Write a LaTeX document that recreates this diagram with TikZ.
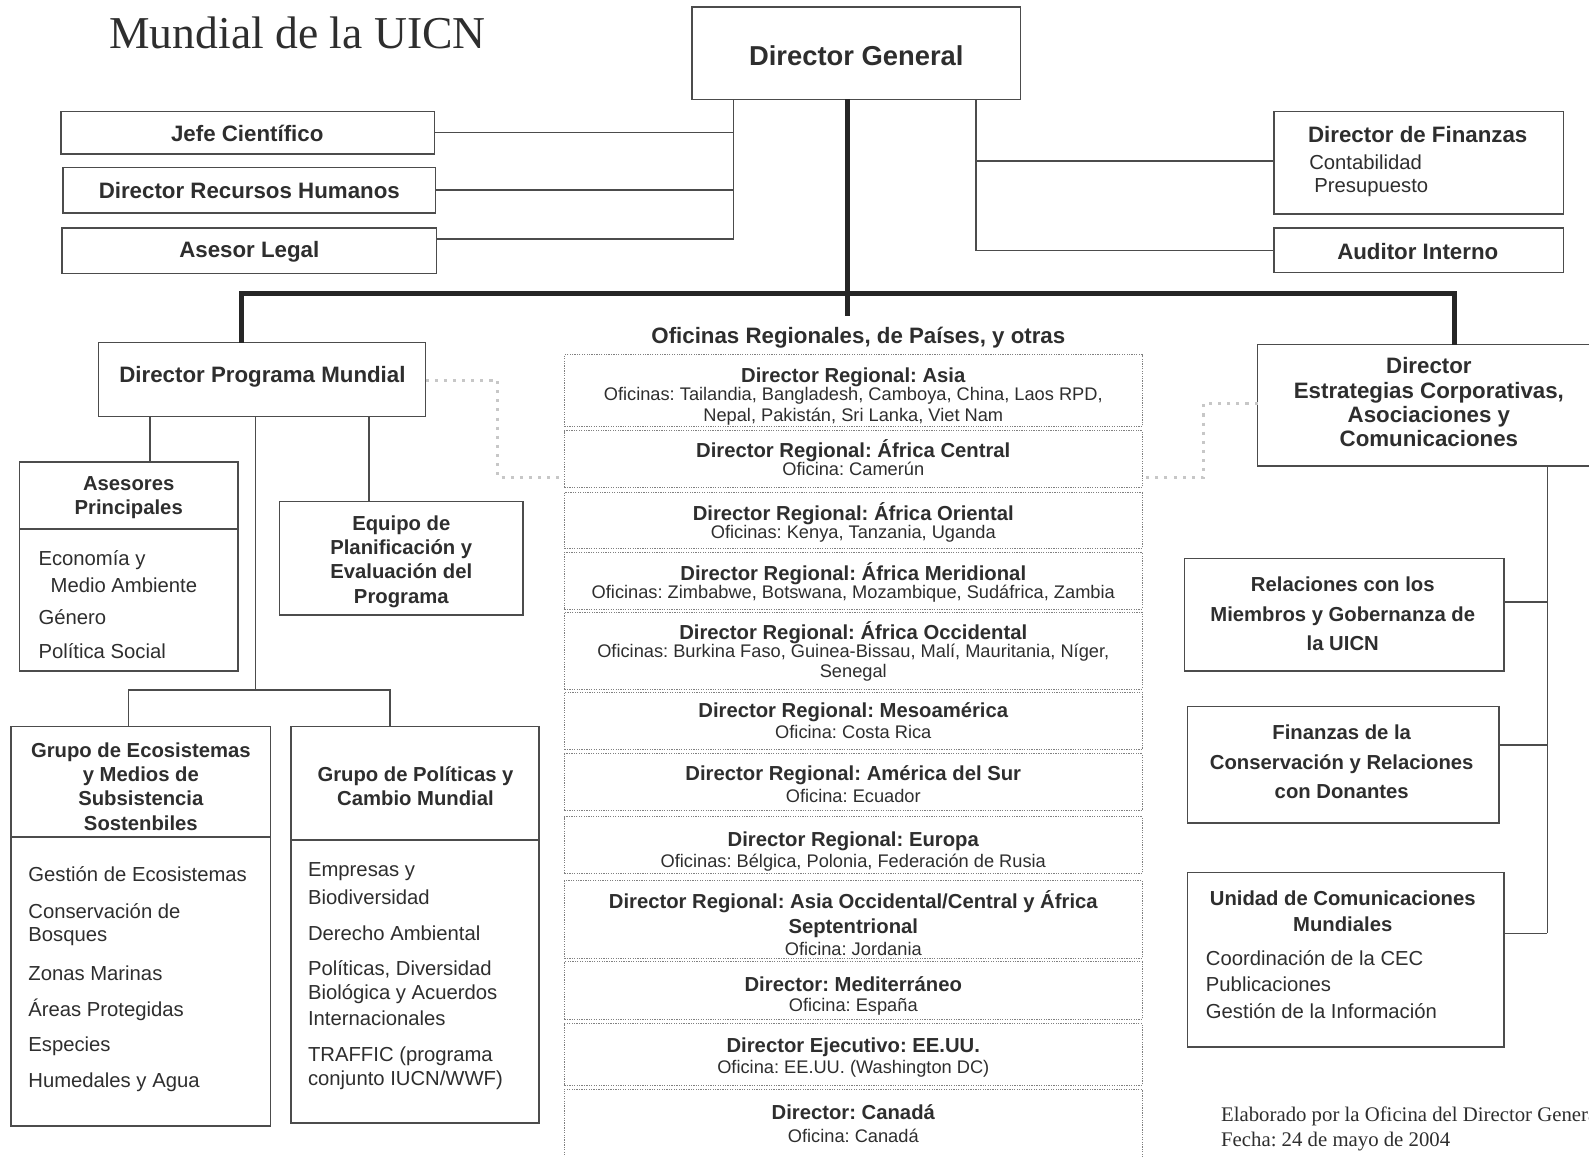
\documentclass[tikz,border=0pt]{standalone}
\usepackage{fontspec}
\setmainfont{Liberation Sans}
\newfontfamily\seriff{Liberation Serif}
\frenchspacing
\newcommand\fsz[2]{\fontsize{#1}{#2}\selectfont}
\newcommand\mybox[6][]{\node[box,#1,minimum width={#5pt-#3pt},minimum height={#6pt-#4pt}] (#2) at ({(#3+#5)/2},{(#4+#6)/2}) {};}
\tikzset{
  box/.style={draw=black!70, line width=1.4pt, inner sep=0pt, outer sep=0pt},
  dbox/.style={draw=black!50, line width=1pt, dash pattern=on 1.2pt off 1.2pt, inner sep=0pt, outer sep=0pt},
  conn/.style={draw=black!70, line width=1.4pt},
  thk/.style={draw=black!85, line width=5pt, line join=miter},
  dotconn/.style={draw=black!22, line width=3pt, dash pattern=on 3pt off 6pt},
  tx/.style={text=black!82, inner sep=0pt, outer sep=0pt, align=center},
  hb/.style={tx, font=\bfseries\fsz{22}{24}},
  hc/.style={tx, font=\bfseries\fsz{20}{24}},
  rb/.style={tx, font=\fsz{18}{20}},
  it/.style={tx, anchor=west, align=left, font=\fsz{20}{24}},
}
\begin{document}
\begin{tikzpicture}[x=1pt,y=-1pt]
\useasboundingbox (0,0) rectangle (1568,1141);
\clip (0,0) rectangle (1568,1141);
\fill[white] (0,0) rectangle (1568,1141);

% title
\node[tx, anchor=base west, font=\seriff\fsz{45}{50}] (title) at (108,48) {Mundial de la UICN};

% top boxes
\mybox{dg}{683}{7}{1007}{98}
\node[tx, font=\bfseries\fsz{27}{30}] (dgT) at (845,55) {Director General};
\mybox{jefe}{60}{110}{429}{152}
\node[hb] (jefeT) at (244,132) {Jefe Científico};
\mybox{rh}{62}{165}{430}{210}
\node[hb] (rhT) at (246,188) {Director Recursos Humanos};
\mybox{legal}{61}{225}{431}{270}
\node[hb] (legalT) at (246,248) {Asesor Legal};
\mybox{fin}{1257}{110}{1543}{211}
\node[hb] (finT) at (1399,133) {Director de Finanzas};
\node[it] (finA) at (1292,160) {Contabilidad};
\node[it] (finB) at (1297,185) {Presupuesto};
\mybox{aud}{1257}{225}{1543}{269}
\node[hb] (audT) at (1399,248) {Auditor Interno};

% connectors top
\draw[conn] (dg.south -| 724,0) |- (jefe.east);
\draw[conn] (dg.south -| 724,0) |- (rh.east);
\draw[conn] (dg.south -| 724,0) |- (legal.east |- 0,236);
\draw[conn] (dg.south -| 963,0) |- (fin.west |- 0,159);
\draw[conn] (dg.south -| 963,0) |- (aud.west);

% second level
\mybox{dpm}{97}{338}{420}{411}
\node[hb] (dpmT) at (259,372) {Director Programa Mundial};
\mybox{est}{1241}{340}{1590}{460}
\node[hb] (estT) at (1410,397) {Director\\Estrategias Corporativas,\\Asociaciones y\\Comunicaciones};
\node[hb] (ofT) at (847,333) {Oficinas Regionales, de Países, y otras};

\coordinate (bar) at (836,290);
\draw[thk] (dg.south -| bar) -- (836,312);
\draw[thk] (dpm.north -| 238,0) -- (238,290) -- (1435,290) -- (est.north -| 1435,0);

% regional boxes
\newcommand\rbox[7]{%
  \node[dbox, minimum width=570pt, minimum height={#3pt-#2pt}] (#1) at (842,{(#2+#3)/2}) {};
  \node[hc] (#1T) at (842,#5) {#4};
  \node[rb] (#1S) at (842,#7) {#6};}
\rbox{asia}{350}{421}{Director Regional: Asia}{372}{Oficinas: Tailandia, Bangladesh, Camboya, China, Laos RPD,\\Nepal, Pakistán, Sri Lanka, Viet Nam}{401}
\rbox{afc}{425}{481}{Director Regional: África Central}{445}{Oficina: Camerún}{463}
\rbox{afo}{486}{541}{Director Regional: África Oriental}{507}{Oficinas: Kenya, Tanzania, Uganda}{527}
\rbox{afm}{545}{601}{Director Regional: África Meridional}{566}{Oficinas: Zimbabwe, Botswana, Mozambique, Sudáfrica, Zambia}{586}
\rbox{afoc}{604}{680}{Director Regional: África Occidental}{624}{Oficinas: Burkina Faso, Guinea-Bissau, Malí, Mauritania, Níger,\\Senegal}{654}
\rbox{meso}{683}{740}{Director Regional: Mesoamérica}{703}{Oficina: Costa Rica}{722}
\rbox{amsur}{744}{800}{Director Regional: América del Sur}{765}{Oficina: Ecuador}{785}
\rbox{eur}{806}{862}{Director Regional: Europa}{830}{Oficinas: Bélgica, Polonia, Federación de Rusia}{851}
\rbox{aoc}{869}{946}{Director Regional: Asia Occidental/Central y África\\Septentrional}{902}{Oficina: Jordania}{936}
\rbox{med}{949}{1006}{Director: Mediterráneo}{971}{Oficina: España}{993}
\rbox{usa}{1010}{1071}{Director Ejecutivo: EE.UU.}{1033}{Oficina: EE.UU. (Washington DC)}{1055}
\rbox{can}{1075}{1160}{Director: Canadá}{1097}{Oficina: Canadá}{1121}

% dotted links
\draw[dotconn] (dpm.east |- 0,375) -- (491,375) -- (491,471) -- (afc.west |- 0,471);
\draw[dotconn] (est.west |- 0,398) -- (1188,398) -- (1188,471) -- (afc.east |- 0,471);

% left branch
\mybox{ases}{19}{456}{235}{662}
\draw[box] (ases.west |- 0,522) -- (ases.east |- 0,522);
\node[hc] (asesT) at (127,491) {Asesores\\Principales};
\node[it] (as1) at (38,553) {Economía y};
\node[it] (as2) at (50,578) {Medio Ambiente};
\node[it] (as3) at (38,609) {Género};
\node[it] (as4) at (38,643) {Política Social};

\mybox{equipo}{276}{495}{516}{607}
\node[hc] (equipoT) at (396,554) {Equipo de\\Planificación y\\Evaluación del\\Programa};

\mybox{ecos}{11}{717}{267}{1111}
\draw[box] (ecos.west |- 0,826) -- (ecos.east |- 0,826);
\node[hc] (ecosT) at (139,776) {Grupo de Ecosistemas\\y Medios de\\Subsistencia\\Sostenbiles};
\node[it] (ec1) at (28,863) {Gestión de Ecosistemas};
\node[it] (ec2) at (28,899) {Conservación de};
\node[it] (ec3) at (28,924) {Bosques};
\node[it] (ec4) at (28,960) {Zonas Marinas};
\node[it] (ec5) at (28,996) {Áreas Protegidas};
\node[it] (ec6) at (28,1032) {Especies};
\node[it] (ec7) at (28,1068) {Humedales y Agua};

\mybox{pol}{287}{717}{532}{1108}
\draw[box] (pol.west |- 0,829) -- (pol.east |- 0,829);
\node[hc] (polT) at (410,776) {Grupo de Políticas y\\Cambio Mundial};
\node[it] (po1) at (304,860) {Empresas y};
\node[it] (po2) at (304,885) {Biodiversidad};
\node[it] (po3) at (304,921) {Derecho Ambiental};
\node[it] (po4) at (304,957) {Políticas, Diversidad};
\node[it] (po5) at (304,981) {Biológica y Acuerdos};
\node[it] (po6) at (304,1005) {Internacionales};
\node[it] (po7) at (304,1042) {TRAFFIC (programa};
\node[it] (po8) at (304,1066) {conjunto IUCN/WWF)};

\draw[conn] (dpm.south -| 148,0) -- (ases.north -| 148,0);
\draw[conn] (dpm.south -| 364,0) -- (equipo.north -| 364,0);
\draw[conn] (dpm.south -| 252,0) -- (252,681);
\draw[conn] (ecos.north -| 127,0) -- (127,681) -- (385,681) -- (pol.north -| 385,0);

% right branch
\mybox{rel}{1169}{551}{1484}{662}
\node[tx, font=\bfseries\fsz{20}{29}] (relT) at (1325,606) {Relaciones con los\\Miembros y Gobernanza de\\la UICN};
\mybox{finz}{1172}{697}{1479}{812}
\node[tx, font=\bfseries\fsz{20}{29}] (finzT) at (1324,752) {Finanzas de la\\Conservación y Relaciones\\con Donantes};
\mybox{unid}{1172}{861}{1484}{1033}
\node[tx, font=\bfseries\fsz{20}{26}] (unidT) at (1325,899) {Unidad de Comunicaciones\\Mundiales};
\node[it] (un1) at (1190,945) {Coordinación de la CEC};
\node[it] (un2) at (1190,971) {Publicaciones};
\node[it] (un3) at (1190,998) {Gestión de la Información};

\draw[conn] (est.south -| 1527,0) -- (1527,921);
\draw[conn] (rel.east |- 0,594) -- (1527,594);
\draw[conn] (finz.east |- 0,735) -- (1527,735);
\draw[conn] (unid.east |- 0,921) -- (1527,921);

% footer
\node[tx, anchor=west, align=left, font=\seriff\fsz{20.5}{24}] (foot) at (1205,1114) {Elaborado por la Oficina del Director General\\Fecha: 24 de mayo de 2004};
\end{tikzpicture}
\end{document}
